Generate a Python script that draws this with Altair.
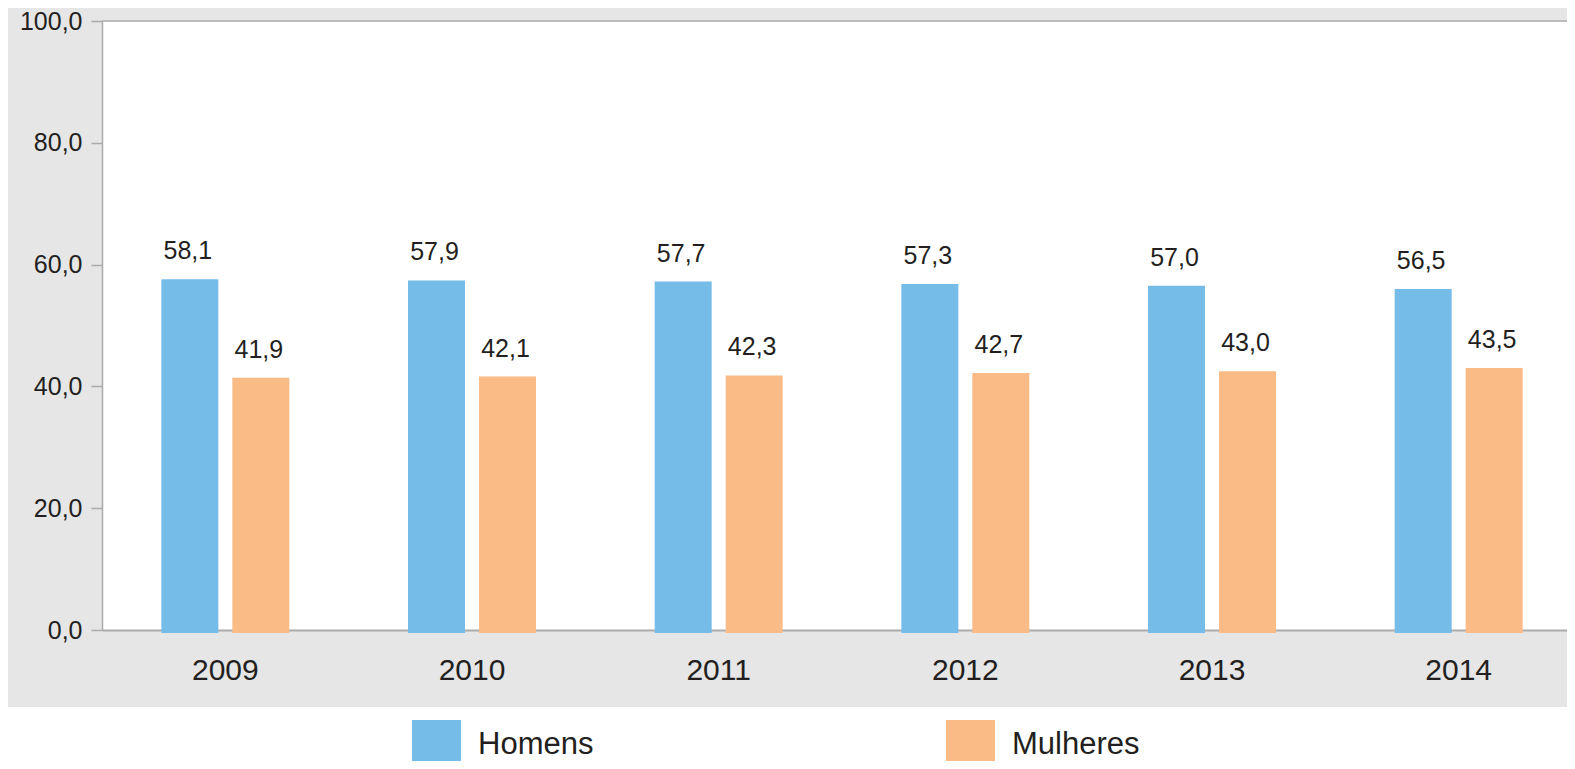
import altair as alt
import pandas as pd

anos = ["2009", "2010", "2011", "2012", "2013", "2014"]
homens = [58.1, 57.9, 57.7, 57.3, 57.0, 56.5]
mulheres = [41.9, 42.1, 42.3, 42.7, 43.0, 43.5]
series = ["Homens", "Mulheres"]
cores = ["#75BDE8", "#FABB86"]
y_ticks = [0, 20, 40, 60, 80, 100]

rows = []
for a, h, m in zip(anos, homens, mulheres):
    rows.append({"ano": a, "sexo": series[0], "valor": h})
    rows.append({"ano": a, "sexo": series[1], "valor": m})
df = pd.DataFrame(rows)

W, H = 1465, 609
FONT = "Liberation Sans"
TXT = "#231F20"
AXC = "#ABABAB"

one = pd.DataFrame({"k": [0]})

bottom_white = alt.Chart(one).mark_rect(color="white").encode(
    x=alt.value(-100), x2=alt.value(W + 100),
    y=alt.value(686), y2=alt.value(H + 200),
)
top_line = alt.Chart(one).mark_rule(color=AXC, strokeWidth=1.5).encode(
    x=alt.value(0), x2=alt.value(W), y=alt.value(0)
)

x_enc = alt.X(
    "ano:N",
    sort=anos,
    scale=alt.Scale(range=[0, 1480], paddingInner=0, paddingOuter=0),
    axis=alt.Axis(
        title=None, ticks=False, labelAngle=0, labelFontSize=30, labelFont=FONT,
        labelColor=TXT, labelPadding=25, domainColor=AXC, domainWidth=2,
    ),
)
y_enc = alt.Y(
    "valor:Q",
    scale=alt.Scale(domain=[0, 100], nice=False),
    axis=alt.Axis(
        title=None, values=y_ticks, grid=False, tickSize=11, tickColor=AXC,
        tickWidth=1.5, domainColor=AXC, domainWidth=1.5, labelFontSize=25,
        labelFont=FONT, labelColor=TXT, labelPadding=9,
        labelExpr="replace(format(datum.value, '.1f'), '.', ',')",
    ),
)
xo = alt.XOffset("sexo:N", sort=series,
                 scale=alt.Scale(paddingInner=0.197, paddingOuter=0.836))

bars = alt.Chart(df).mark_bar(yOffset=3).encode(
    x=x_enc,
    xOffset=xo,
    y=y_enc,
    color=alt.Color(
        "sexo:N", sort=series,
        scale=alt.Scale(domain=series, range=cores),
        legend=alt.Legend(
            title=None, orient="none", legendX=310, legendY=699,
            direction="horizontal", symbolType="square", symbolSize=2401,
            symbolStrokeWidth=0, labelFontSize=31, labelFont=FONT,
            labelColor=TXT, labelOffset=17, columnPadding=352, padding=0,
            labelLimit=400, zindex=1,
        ),
    ),
)

labels = alt.Chart(df).transform_calculate(
    rot="replace(format(datum.valor, '.1f'), '.', ',')"
).mark_text(
    align="center", baseline="alphabetic", dy=-17, dx=-2,
    fontSize=25, font=FONT, color=TXT,
).encode(
    x=alt.X("ano:N", sort=anos),
    xOffset=alt.XOffset("sexo:N", sort=series),
    y=alt.Y("valor:Q"),
    text="rot:N",
)

chart = alt.layer(bottom_white, top_line, bars, labels).properties(
    width=W, height=H,
    background="#E6E6E6",
    padding={"left": 94, "top": 13, "right": 0, "bottom": 131},
    autosize=alt.AutoSizeParams(type="none"),
).configure_view(fill="white", stroke="transparent")

chart.save("out.html", embed_options={"renderer": "svg", "actions": False})
